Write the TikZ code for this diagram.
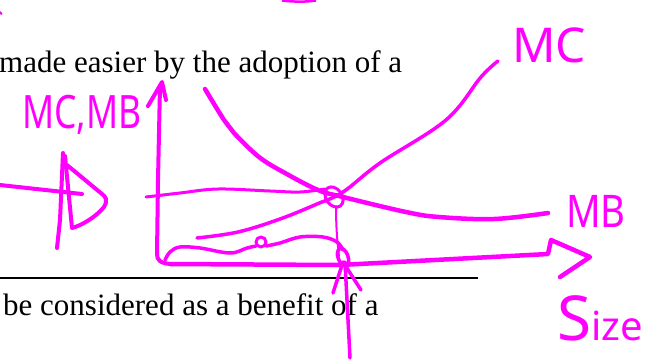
\documentclass[tikz,border=0pt]{standalone}
\usepackage{fontspec}
\setmainfont{Liberation Serif}
\newfontfamily\handfont{Noto Sans}
\definecolor{ink}{HTML}{FF00FF}
\begin{document}
\begin{tikzpicture}[x=1pt,y=-1pt,
  pen/.style={draw=ink,line width=#1,line cap=round,line join=round},
  pen/.default=4pt,
  doctext/.style={anchor=base west,inner sep=0pt,font=\fontsize{31}{31}\selectfont,text=black},
  hand/.style={anchor=base west,inner sep=0pt,text=ink}]
\useasboundingbox (0,0) rectangle (653,360);
\fill[white] (0,0) rectangle (653,360);
% document text
\node[doctext] (l1) at (-1,72) {made easier by the adoption of a};
\node[doctext] (l2) at (3,315) {be considered as a benefit of a};
\draw[line width=2.5pt] (0,278) -- (478,278);
% stray marks
\draw[draw=ink,line width=2.5pt] (282,0.5) .. controls (295,2) and (305,2) .. (316,0.5);
\draw[pen=2pt] (0,12) -- (1.5,14);
% left D shape
\draw[pen=4pt] (0,185) -- (82,194);
\draw[pen=4pt] (63,153) -- (60,220) -- (57,248);
\draw[pen=4pt] (65,156) -- (72,228) .. controls (80,226) and (95,218) .. (104,207)
  .. controls (108,200) and (106,197) .. (102,194) -- (67,165);
% y axis with arrow
\draw[pen=4pt] (160,86) -- (158,180) -- (157,254) .. controls (157,260) and (160,263) .. (170,264);
\draw[pen=4pt] (148,106) -- (162,82) -- (166,100);
% x axis with arrow
\draw[pen=4.5pt] (170,264) -- (340,265) -- (548,254) -- (551,240) -- (590,257) -- (560,277);
% price line
\draw[pen=3pt] plot[smooth,tension=0.6] coordinates {(146,197) (180,193) (218,189) (270,191) (300,192) (325,189)};
% MB curve (falling)
\draw[pen=4.5pt] plot[smooth,tension=0.6] coordinates {(205,89) (224,120) (234,133) (259,157) (285,173) (318,190) (343,197) (406,212) (439,217) (494,219) (548,213)};
% MC curve (rising)
\draw[pen=3.5pt] plot[smooth,tension=0.6] coordinates {(197,238) (238,232) (280,219) (317,204) (343,192) (380,163) (446,120) (481,77) (498,61)};
% intersection loop
\draw[pen=3pt,rotate around={35:(334,197)}] (334,197) ellipse [x radius=8, y radius=11];
% drop line
\draw[pen=2pt] (336,206) .. controls (336,225) and (337,240) .. (339,256);
\draw[pen=3.5pt,rotate around={20:(343,257)}] (343,257) ellipse [x radius=5, y radius=9];
% upward arrow
\draw[pen=3.5pt] (350,358) -- (345,262);
\draw[pen=3.5pt] (333,293) -- (343,262) -- (361,290);
% wavy line
\draw[pen=3.5pt] plot[smooth,tension=0.6] coordinates {(165,260) (170,252) (180,247) (200,248) (230,253) (247,248) (256,246)};
\draw[pen=3pt] (261,242) circle [radius=5];
\draw[pen=3.5pt] plot[smooth,tension=0.6] coordinates {(266,246) (280,243) (300,237) (323,237) (337,242) (343,250)};
% handwritten labels
\node[hand,font=\handfont\fontsize{46}{46}\selectfont] (mcmb) at (22,128) {\scalebox{0.77}[1]{MC,MB}};
\node[hand,font=\handfont\fontsize{48}{48}\selectfont] (mc) at (512,62) {MC};
\node[hand,font=\handfont\fontsize{45}{45}\selectfont] (mb) at (566,227) {\scalebox{0.85}[1]{MB}};
\node[hand] (size) at (557,340) {\handfont\fontsize{62}{62}\selectfont S\fontsize{40}{40}\selectfont ize};
\end{tikzpicture}
\end{document}
